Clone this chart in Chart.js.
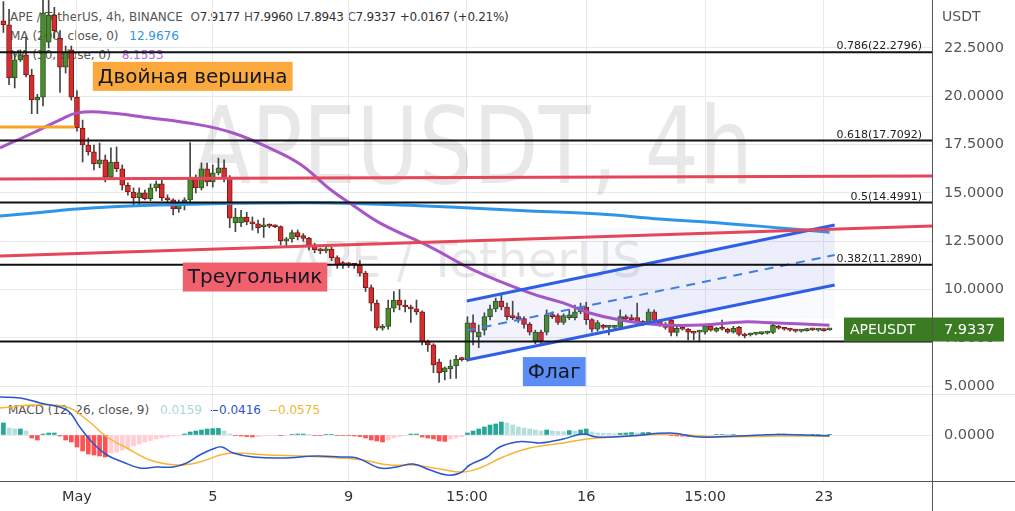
<!DOCTYPE html>
<html>
<head>
<meta charset="utf-8">
<script src="https://cdn.jsdelivr.net/npm/chart.js@4.4.0/dist/chart.umd.min.js"></script>
<style>
html, body { margin: 0; padding: 0; background: #fff; }
#wrap { position: relative; width: 1015px; height: 511px; overflow: hidden; font-family: "DejaVu Sans", sans-serif; }
canvas { position: absolute; left: 0; }
.leg { position: absolute; left: 10px; font-size: 12px; line-height: 16px; color: #555; white-space: nowrap; }
.leg span { margin-left: 7px; }
.leg .v { margin-left: 4px; letter-spacing: -0.3px; }
.leg b { font-weight: normal; color: #333; }
.line { position: absolute; }
</style>
</head>
<body>
<div id="wrap">
  <div class="leg" style="top:9px">APE / TetherUS, 4h, BINANCE <span class="v">O<b>7.9177</b></span><span class="v">H<b>7.9960</b></span><span class="v">L<b>7.8943</b></span><span class="v">C<b>7.9337</b></span><span class="v" style="color:#333">+0.0167 (+0.21%)</span></div>
  <div class="leg" style="top:28px">MA (200, close, 0) <span style="color:#2f95dc">12.9676</span></div>
  <div class="leg" style="top:47px">MA (30, close, 0) <span style="color:#b267d6">8.1553</span></div>
  <div class="leg" style="top:402px;left:8px">MACD (12, 26, close, 9) <span style="color:#a9d9d4">0.0159</span><span style="color:#2a55d0">&minus;0.0416</span><span style="color:#f5b531">&minus;0.0575</span></div>

  <canvas id="main" width="1015" height="394" style="top:0"></canvas>
  <canvas id="macd" width="1015" height="117" style="top:394px"></canvas>

  <div class="line" style="left:0;top:394px;width:1015px;height:1px;background:#e3e3e3"></div>
  <div class="line" style="left:0;top:481px;width:1015px;height:1px;background:#555"></div>
  <div class="line" style="left:932px;top:0;width:1px;height:511px;background:#555"></div>
  <div style="position:absolute;left:942px;top:8px;font-size:14px;color:#555">USDT</div>
</div>

<script>
// candles: index 0 = May 1 00:00, 4h each
const firstIndex = -13;
const opens = [23.9, 23.69, 20.95, 21.88, 22.14, 21.1, 19.81, 19.95, 22.8, 24.2, 23.0, 21.5, 22.4,
  19.96, 18.36, 17.48, 17.12, 16.5, 16.71, 15.82, 16.6, 16.25, 15.4,
  15.05, 14.75, 15.0, 14.7, 15.26, 15.47, 14.75, 14.64, 14.17, 14.5,
  14.64, 15.72, 15.26, 16.25, 15.57, 16.04, 16.3, 15.8, 13.45, 13.45,
  13.75, 13.5, 13.4, 13.25, 13.3, 13.3, 13.26, 12.52, 12.62, 12.95,
  12.8, 12.65, 12.3, 12.05, 12.0, 12.1, 11.65, 11.35, 11.3, 11.28,
  11.25, 10.85, 10.1, 9.3, 8.0, 8.1, 9.04, 9.46, 9.2, 9.1,
  9.0, 8.85, 7.3, 7.14, 6.25, 5.75, 5.9, 6.05, 6.4, 6.38,
  8.28, 7.55, 7.9, 8.6, 9.0, 9.4, 9.1, 8.6, 8.55, 8.5,
  8.2, 7.35, 7.8, 7.8, 8.7, 8.65, 8.3, 8.55, 8.55, 8.85,
  9.1, 8.45, 7.95, 8.1, 8.05, 8.05, 8.05, 8.6, 8.55, 8.55,
  8.3, 8.25, 8.85, 8.4, 8.2, 8.43, 7.78, 8.05, 7.95, 7.8,
  7.8, 7.8, 8.1, 7.85, 8.0, 7.95, 7.8, 8.05, 7.68, 7.65,
  7.7, 7.72, 7.75, 7.78, 8.1, 8.0, 7.95, 7.9, 7.85, 7.88,
  7.95, 7.9, 7.95, 7.9177];
const highs = [24.9, 24.5, 22.3, 22.4, 23.07, 21.4, 20.1, 25.0, 25.0, 24.6, 23.4, 22.6, 22.6,
  20.3, 18.77, 17.84, 17.48, 17.58, 16.96, 17.33, 17.38, 16.45, 15.52,
  15.26, 15.26, 15.15, 15.47, 15.62, 15.67, 14.9, 14.7, 14.64, 14.75,
  17.6, 15.93, 16.55, 16.55, 16.45, 16.8, 16.71, 15.9, 14.2, 14.1,
  14.0, 13.76, 13.6, 13.7, 13.4, 13.35, 13.3, 12.7, 13.08, 13.08,
  12.9, 12.7, 12.4, 12.15, 12.2, 12.2, 11.75, 11.45, 11.4, 11.35,
  11.5, 10.95, 10.24, 9.46, 8.2, 9.46, 9.9, 10.0, 9.46, 9.2,
  9.46, 8.9, 7.39, 7.2, 6.4, 6.0, 6.36, 6.6, 6.5, 8.6,
  8.7, 8.17, 8.8, 9.2, 9.56, 9.72, 9.3, 9.4, 8.8, 8.6,
  8.3, 7.9, 7.9, 8.95, 8.85, 8.75, 8.75, 8.95, 9.2, 9.3,
  9.35, 8.5, 8.4, 8.2, 8.15, 8.1, 8.95, 8.7, 8.7, 9.3,
  8.4, 9.0, 8.95, 8.45, 8.3, 8.5, 8.1, 8.1, 8.0, 7.85,
  7.9, 8.15, 8.15, 8.05, 8.43, 8.0, 8.1, 8.1, 7.75, 7.75,
  7.78, 7.8, 7.85, 8.2, 8.15, 8.05, 8.0, 7.95, 7.92, 8.0,
  8.0, 7.98, 7.98, 7.996];
const lows = [23.3, 20.6, 20.43, 21.8, 21.0, 19.1, 19.1, 19.5, 22.5, 23.0, 20.2, 21.2, 19.8,
  18.2, 16.6, 16.96, 16.19, 16.3, 15.57, 15.77, 16.1, 15.15, 14.89,
  14.38, 14.38, 14.64, 14.6, 15.1, 14.6, 14.55, 13.86, 14.0, 14.12,
  14.55, 15.0, 15.15, 15.36, 15.3, 15.93, 15.57, 13.2, 13.0, 13.25,
  13.35, 13.08, 12.93, 12.7, 13.2, 13.2, 12.31, 12.26, 12.45, 12.57,
  12.5, 12.05, 11.9, 11.85, 11.9, 11.5, 11.1, 11.1, 11.15, 11.1,
  10.7, 9.9, 8.9, 7.9, 7.9, 7.95, 8.85, 8.95, 8.85, 8.3,
  8.7, 7.14, 6.8, 5.7, 5.2, 5.33, 5.4, 5.4, 6.3, 6.3,
  7.14, 7.0, 7.65, 8.43, 8.85, 8.95, 8.43, 8.45, 8.3, 8.0,
  7.65, 7.2, 7.14, 7.65, 8.5, 8.2, 8.2, 8.45, 8.43, 8.75,
  8.2, 7.8, 7.85, 7.95, 7.65, 7.95, 8.0, 8.4, 8.35, 8.2,
  8.15, 8.2, 8.35, 8.1, 7.95, 7.6, 7.6, 7.9, 7.4, 7.4,
  7.3, 7.7, 7.85, 7.8, 7.9, 7.75, 7.75, 7.6, 7.5, 7.6,
  7.65, 7.68, 7.7, 7.72, 7.95, 7.9, 7.85, 7.8, 7.8, 7.85,
  7.88, 7.85, 7.85, 7.8943];
const closes = [23.7, 20.95, 21.88, 22.14, 21.1, 19.81, 19.95, 24.3, 24.2, 23.4, 21.5, 22.3, 19.96,
  18.36, 17.48, 17.12, 16.5, 16.71, 15.82, 16.6, 16.25, 15.4, 15.05,
  14.75, 15.0, 14.7, 15.26, 15.47, 14.75, 14.64, 14.17, 14.5, 14.64,
  15.72, 15.26, 16.25, 15.57, 16.04, 16.3, 15.77, 13.7, 13.75, 13.75,
  13.5, 13.4, 13.2, 13.3, 13.28, 13.25, 12.52, 12.62, 12.95, 12.74,
  12.65, 12.3, 12.05, 12.0, 12.05, 11.65, 11.3, 11.3, 11.28, 11.25,
  10.85, 10.1, 9.3, 8.0, 8.1, 9.04, 9.46, 9.2, 9.1, 9.0,
  8.85, 7.3, 7.14, 6.1, 5.7, 5.95, 6.05, 6.4, 6.38, 8.28,
  7.8, 7.8, 8.6, 9.0, 9.4, 9.1, 8.6, 8.55, 8.5, 8.2,
  7.8, 7.8, 7.35, 8.7, 8.6, 8.3, 8.65, 8.7, 8.85, 9.1,
  8.45, 7.95, 8.3, 8.05, 8.05, 8.07, 8.6, 8.5, 8.45, 8.3,
  8.25, 8.85, 8.4, 8.2, 8.05, 7.78, 8.0, 7.95, 7.8, 7.75,
  7.85, 8.1, 7.9, 8.0, 7.95, 7.8, 8.0, 7.68, 7.6, 7.7,
  7.72, 7.75, 7.8, 8.15, 8.0, 7.95, 7.9, 7.85, 7.86, 7.95,
  7.92, 7.95, 7.88, 7.9337];

// moving averages (candle index, price)
const ma200Idx = [-13.6, -6.5, 0, 9.4, 21.7, 34, 44.7, 57, 66, 80, 92.4, 103, 113.6, 124.2, 133];
const ma200Val = [13.81, 13.99, 14.17, 14.33, 14.43, 14.48, 14.48, 14.38, 14.27, 14.07, 13.91, 13.65, 13.45, 13.19, 12.97];
const ma30Idx = [-13.6, -7.8, -3, 0, 4, 13, 21.7, 27.6, 33.6, 39.4, 44.9, 48.2, 53.5, 62.4, 70, 80, 85.9, 90.6, 96, 103.5, 110.6, 117.7, 123.7, 133];
const ma30Val = [17.33, 18.10, 18.78, 19.14, 19.19, 18.88, 18.52, 18.10, 17.38, 16.5, 15.15, 14.48, 13.45, 12.21, 11.02, 9.83, 9.31, 8.79, 8.43, 8.17, 8.17, 8.33, 8.27, 8.16];

// MACD pane
const macdIdx = [-13.6, -10, -6.5, -1.8, 0.5, 2.8, 5.3, 8.1, 11.1, 14.1, 17, 19.4, 21.7, 24, 25.6, 27.6, 31.1, 36.4, 42.4, 46.5, 49.5, 53.5, 56.5, 59.4, 62.4, 65.4, 67.7, 69.4, 72.4, 74.7, 77.7, 80, 81.8, 85.9, 89.4, 91.9, 97.7, 104.8, 110, 117, 124, 133];
const macdVal = [1.9, 1.85, 1.6, 1.25, 0.4, -0.4, -1.0, -1.35, -1.65, -1.6, -1.6, -1.4, -1.0, -0.7, -0.6, -0.9, -1.1, -1.15, -1.05, -1.1, -1.15, -1.65, -1.6, -1.45, -1.75, -2.0, -1.9, -1.5, -1.1, -0.6, -0.35, -0.35, -0.4, -0.2, 0.05, -0.1, -0.05, 0.1, -0.1, -0.05, 0.02, -0.04];
const signalIdx = [-13.6, -7.8, -1.8, 1.8, 5.3, 8.8, 12.9, 17.7, 21.7, 25.3, 27.6, 33.6, 39.4, 46.5, 50.5, 55.3, 59.4, 64.1, 68.2, 71.2, 75.3, 80, 85.9, 90.1, 94.7, 100.7, 104.8, 113.6, 124, 133];
const signalVal = [1.35, 1.5, 1.4, 0.75, -0.1, -0.65, -1.25, -1.5, -1.35, -1.0, -0.9, -1.0, -1.05, -1.15, -1.25, -1.5, -1.5, -1.7, -1.85, -1.65, -1.1, -0.65, -0.4, -0.2, -0.1, 0, 0.05, -0.1, -0.05, -0.06];
const hist = [0.6, 0.35, 0.3, 0.3, 0.2, -0.15, -0.25, 0.05, 0.1, 0.1, -0.05, -0.25, -0.35,
  -0.6, -0.8, -0.95, -1.0, -1.05, -1.1, -0.9, -0.85, -0.75, -0.65,
  -0.55, -0.45, -0.35, -0.28, -0.2, -0.15, -0.1, -0.05, -0.02, 0.05,
  0.15, 0.2, 0.25, 0.3, 0.32, 0.33, 0.2, 0.05, -0.02, -0.05,
  -0.08, -0.1, -0.08, -0.05, -0.03, -0.02, -0.03, -0.02, 0.02, 0.05,
  0.05, 0.02, -0.02, -0.03, 0.02, 0.02, -0.02, -0.02, -0.03, -0.05,
  -0.08, -0.15, -0.25, -0.3, -0.35, -0.25, -0.15, -0.08, -0.02, 0.05,
  0.05, -0.1, -0.15, -0.2, -0.3, -0.32, -0.2, -0.15, -0.08, 0.1,
  0.2, 0.3, 0.4, 0.5, 0.55, 0.65, 0.6, 0.5, 0.4, 0.35,
  0.3, 0.25, 0.2, 0.25, 0.2, 0.18, 0.17, 0.22, 0.2, 0.25,
  0.3, 0.15, 0.1, 0.09, 0.08, 0.06, 0.08, 0.1, 0.12, 0.1,
  0.12, 0.13, 0.1, 0.08, 0.05, -0.03, -0.05, -0.06, -0.07, -0.05,
  -0.04, -0.03, -0.02, 0.02, 0.03, 0.02, 0.03, -0.03, -0.05, -0.05,
  -0.04, -0.03, -0.02, 0.03, 0.05, 0.05, 0.04, 0.03, 0.03, 0.02,
  0.02, 0.02, 0.015, 0.0159];

// drawings
const fibRatios = [0.786, 0.618, 0.5, 0.382, 0.236];
const fibPrices = [22.2796, 17.7092, 14.4991, 11.2890, 7.3170];
const redLineA = [[-13.6, 15.72], [151.1, 15.87]];
const redLineB = [[-13.6, 11.74], [151.1, 13.29]];
const chanUpper = [[68.9, 9.41], [133.9, 13.34]];
const chanMid = [[68.9, 7.885], [133.9, 11.79]];
const chanLower = [[68.9, 6.36], [133.9, 10.24]];
const shadeBox = [[90, 13.2], [133.9, 8.5]];
const orangeLine = [[-13.6, 18.41], [-0.35, 18.41]];
const notes = [
  { text: 'Двойная вершина', at: 2.8, price: 21.03, bg: '#fba93c' },
  { text: 'Треугольник', at: 18.7, price: 10.65, bg: '#f0606d' },
  { text: 'Флаг', at: 78.8, price: 5.76, bg: '#5b8df4' }
];

// axes
const xMin = -13.6, xMax = 151.1;
const timeTicks = [0, 24, 48, 68.9, 90, 111, 132];
const timeLabels = ['May', '5', '9', '15:00', '16', '15:00', '23'];
const priceTicks = [5, 7.5, 10, 12.5, 15, 17.5, 20, 22.5];

const FONT = '"DejaVu Sans", sans-serif';
const GRID = '#e9e9e9';
const idx = opens.map((_, k) => firstIndex + k);
const isUp = opens.map((o, k) => closes[k] >= o);
const pts = (xs, ys) => xs.map((x, k) => ({ x: x, y: ys[k] }));
const seg = s => s.map(p => ({ x: p[0], y: p[1] }));
const lineDs = (data, color, width, order, extra) => Object.assign({
  type: 'line', data: data, borderColor: color, borderWidth: width,
  pointRadius: 0, fill: false, order: order
}, extra || {});
// keep the plot area flush with the canvas edges
const noPad = s => { s.paddingTop = 0; s.paddingBottom = 0; s.paddingLeft = 0; s.paddingRight = 0; };

function fitText(ctx, text, cx, base, size, width) {
  ctx.font = size + 'px ' + FONT;
  const w = ctx.measureText(text).width;
  ctx.save();
  ctx.translate(cx, base);
  ctx.scale(width / w, 1);
  ctx.fillText(text, 0, 0);
  ctx.restore();
}

const drawings = {
  id: 'drawings',
  beforeDatasetsDraw(chart) {
    const { ctx, chartArea: a } = chart;
    const xs = chart.scales.x, ys = chart.scales.y;
    ctx.save();
    ctx.beginPath();
    ctx.rect(a.left, a.top, a.width, a.height);
    ctx.clip();
    ctx.fillStyle = 'rgba(0,0,0,0.09)';
    ctx.textAlign = 'center';
    ctx.textBaseline = 'alphabetic';
    fitText(ctx, 'APEUSDT, 4h', 473, 183, 107, 560);
    fitText(ctx, 'APE / TetherUS', 466, 277, 50, 353);
    const bx = xs.getPixelForValue(shadeBox[0][0]), by = ys.getPixelForValue(shadeBox[0][1]);
    ctx.fillStyle = 'rgba(90,105,235,0.035)';
    ctx.fillRect(bx, by, xs.getPixelForValue(shadeBox[1][0]) - bx, ys.getPixelForValue(shadeBox[1][1]) - by);
    ctx.restore();
  },
  afterDatasetsDraw(chart) {
    const { ctx, chartArea: a } = chart;
    const xs = chart.scales.x, ys = chart.scales.y;
    ctx.save();
    ctx.font = '11px ' + FONT;
    ctx.fillStyle = '#222';
    ctx.textAlign = 'right';
    ctx.textBaseline = 'alphabetic';
    fibPrices.forEach((p, k) => {
      ctx.fillText(fibRatios[k] + '(' + p.toFixed(4) + ')', a.right - 10, ys.getPixelForValue(p) - 3);
    });
    ctx.font = '20px ' + FONT;
    ctx.textAlign = 'left';
    ctx.textBaseline = 'middle';
    notes.forEach(n => {
      const x = xs.getPixelForValue(n.at), y = ys.getPixelForValue(n.price);
      const w = ctx.measureText(n.text).width + 10;
      ctx.fillStyle = n.bg;
      ctx.fillRect(x, y - 14.5, w, 29);
      ctx.fillStyle = '#131722';
      ctx.fillText(n.text, x + 5, y + 1);
    });
    ctx.restore();
  },
  afterDraw(chart) {
    const { ctx, chartArea: a } = chart;
    const last = closes[closes.length - 1];
    const y = chart.scales.y.getPixelForValue(last);
    ctx.save();
    ctx.fillStyle = '#3b7b22';
    ctx.fillRect(a.right - 88, y - 12, 160, 24);
    ctx.fillStyle = '#fff';
    ctx.textBaseline = 'middle';
    ctx.textAlign = 'left';
    ctx.font = '14px ' + FONT;
    ctx.fillText('APEUSDT', a.right - 82, y + 1);
    ctx.font = '14.5px ' + FONT;
    ctx.fillText(last.toFixed(4), a.right + 12, y + 1);
    ctx.restore();
  }
};

const sharedX = (showLabels) => ({
  type: 'linear', min: xMin, max: xMax, offset: false,
  afterBuildTicks: s => { s.ticks = timeTicks.map(v => ({ value: v })); },
  afterFit: s => { s.height = showLabels ? 30 : 0; noPad(s); },
  grid: { color: GRID, drawTicks: false, offset: false },
  border: { display: false },
  ticks: {
    display: showLabels, padding: 8, color: '#333', maxRotation: 0,
    font: { family: FONT, size: 14.5 },
    callback: v => timeLabels[timeTicks.indexOf(v)]
  }
});

const priceAxis = (min, max, tickValues) => ({
  position: 'right', min: min, max: max,
  afterFit: s => { s.width = 83; noPad(s); },
  afterBuildTicks: s => { s.ticks = tickValues.map(v => ({ value: v })); },
  grid: { color: GRID, drawTicks: false },
  border: { display: false },
  ticks: { padding: 12, color: '#555', font: { family: FONT, size: 14.5 }, callback: v => v.toFixed(4) }
});

const baseOptions = {
  responsive: false, animation: false, devicePixelRatio: 1, events: [],
  layout: { padding: 0, autoPadding: false },
  plugins: { legend: { display: false }, tooltip: { enabled: false } }
};

new Chart(document.getElementById('main'), {
  type: 'line',
  data: {
    datasets: [
      ...fibPrices.map(p => lineDs(seg([[xMin, p], [xMax, p]]), '#111', 2, 1)),
      lineDs(seg(orangeLine), '#f5a425', 3, 1),
      lineDs(seg(redLineA), '#e4475a', 3, 1),
      lineDs(seg(redLineB), '#e4475a', 3, 1),
      lineDs(seg(chanUpper), '#2f5ee6', 3, 1, { fill: '+2', backgroundColor: 'rgba(90,105,235,0.08)' }),
      lineDs(seg(chanMid), '#3d7fe6', 2, 1, { borderDash: [9, 7] }),
      lineDs(seg(chanLower), '#2f5ee6', 3, 1),
      lineDs(pts(ma30Idx, ma30Val), '#a855c8', 3, 2, { tension: 0.4 }),
      lineDs(pts(ma200Idx, ma200Val), '#2e96e8', 3, 2, { tension: 0.4 }),
      {
        type: 'bar', order: 3, grouped: false, barThickness: 5, borderWidth: 1, borderSkipped: false, minBarLength: 2,
        data: idx.map((x, k) => ({ x: x, y: [opens[k], closes[k]] })),
        backgroundColor: isUp.map(u => u ? '#4b8a2e' : '#d32f2f'),
        borderColor: isUp.map(u => u ? '#27561a' : '#801616')
      },
      {
        type: 'bar', order: 4, grouped: false, barThickness: 1,
        data: idx.map((x, k) => ({ x: x, y: [lows[k], highs[k]] })),
        backgroundColor: '#444'
      }
    ]
  },
  options: Object.assign({}, baseOptions, {
    scales: { x: sharedX(false), y: priceAxis(4.6, 24.98, priceTicks) }
  }),
  plugins: [drawings]
});

const histColors = hist.map((h, k) => {
  const prev = k > 0 ? hist[k - 1] : 0;
  if (h >= 0) return h >= prev ? '#26a69a' : '#b2dfdb';
  return h <= prev ? '#ff5252' : '#ffcdd2';
});

new Chart(document.getElementById('macd'), {
  type: 'line',
  data: {
    datasets: [
      lineDs(pts(macdIdx, macdVal), '#2a55d0', 1.5, 1, { tension: 0.4 }),
      lineDs(pts(signalIdx, signalVal), '#f5b531', 1.5, 1, { tension: 0.4 }),
      {
        type: 'bar', order: 2, grouped: false, barThickness: 4,
        data: idx.map((x, k) => ({ x: x, y: hist[k] })),
        backgroundColor: histColors
      }
    ]
  },
  options: Object.assign({}, baseOptions, {
    scales: { x: sharedX(true), y: priceAxis(-2.3, 2.05, [0]) }
  })
});
</script>
</body>
</html>
